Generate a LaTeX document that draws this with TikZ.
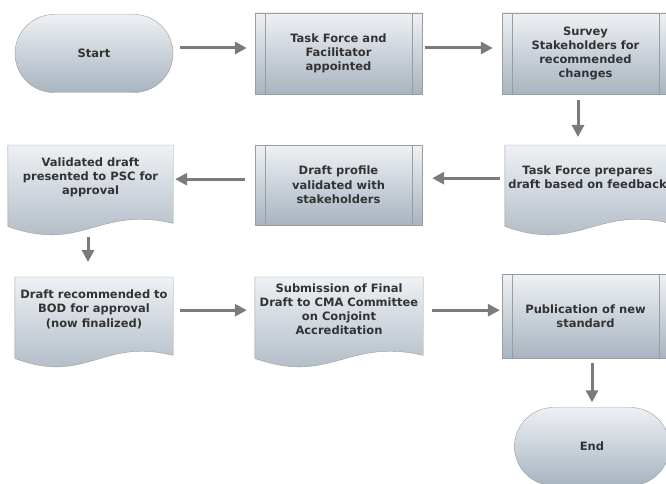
\documentclass[tikz,border=0pt]{standalone}
\usepackage{fontspec}
\setmainfont{DejaVu Sans}
\usepackage{tikz}
\usetikzlibrary{positioning, arrows.meta, shapes.misc, calc, backgrounds}
\usepackage{xcolor}

\definecolor{boxtop}{HTML}{EEF1F4}
\definecolor{boxbot}{HTML}{A8B4C0}
\definecolor{boxedge}{HTML}{9C9C9C}
\definecolor{flowgray}{HTML}{7B7B7B}
\definecolor{boxtext}{HTML}{333333}

% wavy document outline behind a doc node
\newcommand{\docwave}[1]{%
  \shade[docshade] (#1.north west) -- (#1.north east) -- ([yshift=-14pt]#1.south east)
    .. controls ($(#1.south west)!0.55!(#1.south east)+(0,-4)$) and ($(#1.south west)!0.45!(#1.south east)+(0,44)$)
    .. ([yshift=-17pt]#1.south west) -- cycle;}

\begin{document}
\begin{tikzpicture}[x=1pt, y=-1pt,
  txt/.style={font=\bfseries\fontsize{11.5}{14.3}\selectfont, text=boxtext, align=center},
  procbox/.style={txt, draw=boxedge, top color=boxtop, bottom color=boxbot,
    minimum width=167pt, minimum height=81pt, inner sep=0pt,
    path picture={\draw[boxedge]
      ([xshift=10pt]path picture bounding box.north west) -- ([xshift=10pt]path picture bounding box.south west)
      ([xshift=-10pt]path picture bounding box.north east) -- ([xshift=-10pt]path picture bounding box.south east);}},
  termbox/.style={txt, rounded rectangle, draw=boxedge, top color=boxtop, bottom color=boxbot,
    minimum height=78pt, inner sep=0pt},
  docbox/.style={txt, minimum height=64pt, inner sep=0pt, anchor=north},
  docshade/.style={draw=boxedge, top color=boxtop, bottom color=boxbot},
  flow/.style={draw=flowgray, line width=3pt, -{Triangle[length=12pt, width=12pt]}}]
\useasboundingbox (0,0) rectangle (666,484);

% Row 1
\node[termbox, minimum width=158pt] (start) at (94, 53.5) {Start};
\node[procbox] (taskforce) at (338.5, 53.5) {Task Force and\\Facilitator\\appointed};
\node[procbox] (survey) at (585.5, 53.5) {Survey\\Stakeholders for\\recommended\\changes};

% Row 2
\node[docbox, minimum width=165pt] (prepare) at (587.5, 145) {Task Force prepares\\draft based on feedback};
\node[procbox, minimum height=80pt] (profile) at (338.5, 185) {Draft profile\\validated with\\stakeholders};
\node[docbox, minimum width=165pt] (validated) at (90.5, 145) {Validated draft\\presented to PSC for\\approval};

% Row 3
\node[docbox, minimum width=158pt] (recommend) at (94, 277) {Draft recommended to\\BOD for approval\\(now finalized)};
\node[docbox, minimum width=168pt] (submit) at (339, 277) {Submission of Final\\Draft to CMA Committee\\on Conjoint\\Accreditation};
\node[procbox, minimum height=84pt] (publish) at (585.5, 316) {Publication of new\\standard};
\node[termbox, minimum width=155pt] (end) at (592, 446.5) {End};

\begin{scope}[on background layer]
\docwave{prepare}
\docwave{validated}
\docwave{recommend}
\docwave{submit}
\end{scope}

% Connectors
\draw[flow, shorten <=7pt, shorten >=8pt] ([yshift=5.5pt]start.east) -- ([yshift=5.5pt]start.east -| taskforce.west);
\draw[flow, shorten <=3pt, shorten >=9pt] ([yshift=5.5pt]taskforce.east) -- ([yshift=5.5pt]taskforce.east -| survey.west);
\draw[flow, shorten <=6pt, shorten >=8pt] ([xshift=-7.5pt]survey.south) -- ([xshift=-7.5pt]survey.south |- prepare.north);
\draw[flow, shorten <=5pt, shorten >=10pt] ([yshift=-1pt]prepare.west) -- ([yshift=-1pt]prepare.west -| profile.east);
\draw[flow, shorten <=10pt, shorten >=2pt] ([yshift=-2pt]prepare.west -| profile.west) -- ([yshift=-2pt]prepare.west -| validated.east);
\draw[flow, shorten <=28pt, shorten >=15pt] ([xshift=-2.5pt]validated.south) -- ([xshift=-2.5pt]validated.south |- recommend.north);
\draw[flow, shorten <=7pt, shorten >=8pt] ([yshift=-1pt]recommend.east) -- ([yshift=-1pt]recommend.east -| submit.west);
\draw[flow, shorten <=9pt, shorten >=2pt] ([yshift=-1pt]submit.east) -- ([yshift=-1pt]submit.east -| publish.west);
\draw[flow, shorten <=5pt, shorten >=5pt] (end.north |- publish.south) -- (end.north);
\end{tikzpicture}
\end{document}
